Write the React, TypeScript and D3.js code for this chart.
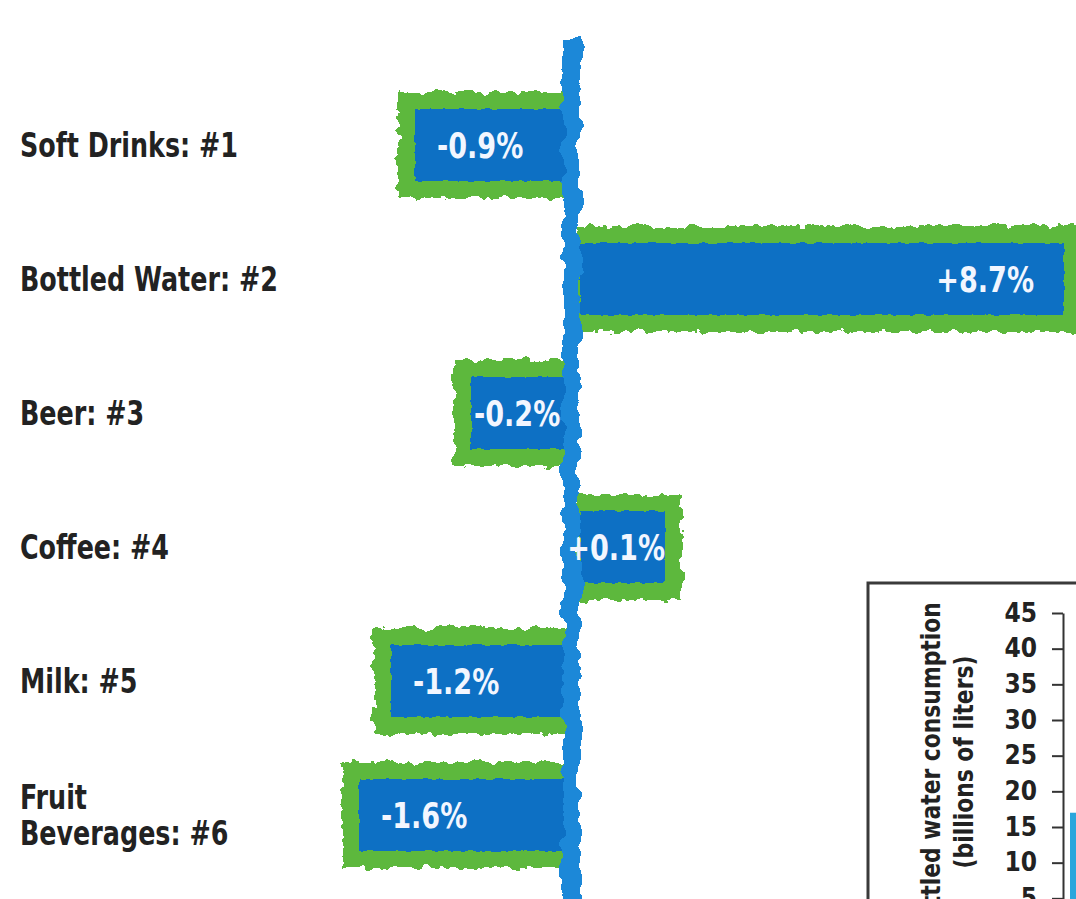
import React, { useEffect, useRef } from 'react'
import * as d3 from 'd3'

// drink categories (rank order) and change in consumption, %
const categories = ['Soft Drinks: #1', 'Bottled Water: #2', 'Beer: #3', 'Coffee: #4', 'Milk: #5', 'Fruit\nBeverages: #6']
const changes = [-0.9, 8.7, -0.2, 0.1, -1.2, -1.6]

// inset: bottled water consumption, billions of liters
const insetYears = ['first']
const insetValues = [17]
const insetTicks = [5, 10, 15, 20, 25, 30, 35, 40, 45]

const FONT = '"Liberation Sans Narrow", "DejaVu Sans Condensed", "Roboto Condensed", Arial, sans-serif'
const BLUE = '#0c6fc4'
const LINE_BLUE = '#1a88d8'
const GREEN = '#5db83d'

const W = 1076
const H = 899
const ZERO = 572

const App: React.FC = () => {
  const insetAxisRef = useRef<SVGGElement | null>(null)

  // broken scale: the big bottled water bar is squeezed in
  const len = d3.scaleLinear().domain([0, 1.6, 8.7]).range([85, 213, 492])
  const x = (v: number) => ZERO + Math.sign(v) * len(Math.abs(v))
  const y = d3.scalePoint<string>().domain(categories).range([145, 815])

  const insetY = d3.scaleLinear().domain([0, 45]).range([934, 613])
  const insetX = d3.scaleBand<string>().domain(insetYears).range([1070, 1110]).padding(0)

  useEffect(() => {
    if (!insetAxisRef.current) {
      return
    }
    const g = d3.select(insetAxisRef.current)
    g.selectAll('*').remove()
    g.call(d3.axisLeft(insetY).tickValues(insetTicks).tickSize(11).tickPadding(15).tickSizeOuter(0))
    g.select('.domain').attr('stroke', '#333').attr('stroke-width', 2)
    g.selectAll('.tick line').attr('stroke', '#333').attr('stroke-width', 2)
    g.selectAll('.tick text')
      .attr('fill', '#222')
      .attr('font-family', FONT)
      .attr('font-weight', 'bold')
      .attr('font-size', 26)
  }, [])

  const blueH = 72
  const greenPad = 17

  return (
    <svg
      width={W}
      height={H}
      viewBox={`0 0 ${W} ${H}`}
      style={{ position: 'absolute', left: 0, top: 0, background: '#fff' }}
    >
      <defs>
        <filter id="rough" x="-10%" y="-30%" width="120%" height="160%">
          <feTurbulence type="fractalNoise" baseFrequency="0.09" numOctaves={3} seed={3} result="n" />
          <feDisplacementMap in="SourceGraphic" in2="n" scale={12} xChannelSelector="R" yChannelSelector="G" />
        </filter>
        <filter id="roughSoft" x="-10%" y="-30%" width="120%" height="160%">
          <feTurbulence type="fractalNoise" baseFrequency="0.12" numOctaves={2} seed={7} result="n" />
          <feDisplacementMap in="SourceGraphic" in2="n" scale={4} xChannelSelector="R" yChannelSelector="G" />
        </filter>
        <filter id="roughLine" x="-200%" y="-5%" width="500%" height="110%">
          <feTurbulence type="fractalNoise" baseFrequency="0.03 0.05" numOctaves={3} seed={5} result="n" />
          <feDisplacementMap in="SourceGraphic" in2="n" scale={16} xChannelSelector="R" yChannelSelector="G" />
        </filter>
      </defs>

      {/* category labels */}
      {categories.map((c) => {
        const lines = c.split('\n')
        const cy = y(c) ?? 0
        return (
          <text
            key={c}
            transform={`translate(20,${cy - ((lines.length - 1) * 36) / 2}) scale(0.83,1)`}
            fontFamily={FONT}
            fontWeight="bold"
            fontSize={34}
            fill="#222"
          >
            {lines.map((l, i) => (
              <tspan key={l} x={0} dy={i === 0 ? '0.36em' : 36}>
                {l}
              </tspan>
            ))}
          </text>
        )
      })}

      {/* green frames */}
      {categories.map((c, i) => {
        const v = changes[i]
        const cy = y(c) ?? 0
        const end = x(v)
        const x0 = v < 0 ? end - greenPad : ZERO + 4
        const x1 = v < 0 ? ZERO : end + greenPad
        return (
          <rect
            key={c}
            x={x0}
            y={cy - blueH / 2 - greenPad}
            width={x1 - x0}
            height={blueH + greenPad * 2}
            fill={GREEN}
            filter="url(#rough)"
          />
        )
      })}

      {/* blue bars */}
      {categories.map((c, i) => {
        const v = changes[i]
        const cy = y(c) ?? 0
        const end = x(v)
        const x0 = v < 0 ? end : ZERO + 8
        const x1 = v < 0 ? ZERO : end
        return (
          <rect
            key={c}
            x={x0}
            y={cy - blueH / 2}
            width={x1 - x0}
            height={blueH}
            fill={BLUE}
            filter="url(#roughSoft)"
          />
        )
      })}

      {/* zero line */}
      <rect x={ZERO - 9} y={40} width={17} height={H - 30} fill={LINE_BLUE} filter="url(#roughLine)" />

      {/* value labels */}
      {categories.map((c, i) => {
        const v = changes[i]
        const cy = y(c) ?? 0
        const l = len(Math.abs(v))
        const pad = l > 130 ? 22 : 3
        const label = `${v > 0 ? '+' : ''}${v.toFixed(1)}%`
        const tx = v < 0 ? x(v) + pad : x(v) - (v > 1 ? 30 : 0)
        return (
          <text
            key={c}
            transform={`translate(${tx},${cy}) scale(0.86,1)`}
            dy="0.36em"
            textAnchor={v < 0 ? 'start' : 'end'}
            fontFamily={FONT}
            fontWeight="bold"
            fontSize={35}
            fill="#f2f6ff"
          >
            {label}
          </text>
        )
      })}

      {/* inset chart */}
      <rect x={868} y={583} width={260} height={360} fill="#fff" stroke="#3a3a3a" strokeWidth={3} />
      {insetYears.map((yr, i) => (
        <rect
          key={yr}
          x={insetX(yr) ?? 0}
          y={insetY(insetValues[i])}
          width={insetX.bandwidth()}
          height={insetY(0) - insetY(insetValues[i])}
          fill="#2aa6dc"
        />
      ))}
      <g ref={insetAxisRef} transform="translate(1063,0)" />
      <text
        transform="translate(940,770) rotate(-90) scale(0.9,1)"
        textAnchor="middle"
        fontFamily={FONT}
        fontWeight="bold"
        fontSize={27}
        fill="#222"
      >
        Bottled water consumption
      </text>
      <text
        transform="translate(973,762) rotate(-90) scale(0.9,1)"
        textAnchor="middle"
        fontFamily={FONT}
        fontWeight="bold"
        fontSize={27}
        fill="#222"
      >
        (billions of liters)
      </text>
    </svg>
  )
}

export default App
